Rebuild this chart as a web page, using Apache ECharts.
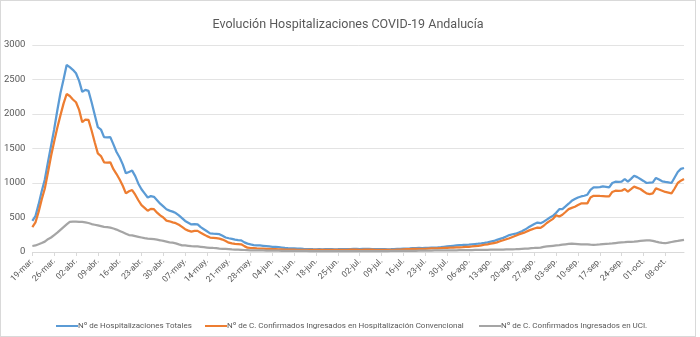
<!DOCTYPE html>
<html><head><meta charset="utf-8">
<script src="https://cdn.jsdelivr.net/npm/echarts@6/dist/echarts.min.js"></script>
<style>html,body{margin:0;padding:0;background:#fff}
#c{position:absolute;left:0;top:0;width:694px;height:335px;border:1px solid #d9d9d9;box-sizing:content-box}</style>
</head><body><div id="c"></div>
<script>
// Dates: 19-mar. to 14-oct. (daily)
const startDay = [3, 19]; // month (1-based), day
const monthNames = ['ene.','feb.','mar.','abr.','may.','jun.','jul.','ago.','sep.','oct.','nov.','dic.'];
const nDays = 210;

const totales = [
450,520,690,880,1050,1300,1540,1780,2050,2300,
2500,2710,2680,2640,2590,2480,2320,2350,2335,2170,
1990,1810,1775,1665,1660,1665,1560,1450,1370,1270,
1140,1160,1180,1100,990,910,850,790,810,800,
750,700,660,620,600,585,565,530,490,450,
425,400,405,400,360,330,300,270,265,262,
258,235,210,199,190,180,172,168,140,121,
110,100,97,95,90,85,80,75,73,70,
65,60,56,54,52,50,48,45,43,42,
40,39,40,39,40,41,40,39,40,42,
40,41,43,45,44,42,44,46,45,43,
42,41,40,40,39,40,42,44,46,48,
50,52,55,57,58,56,58,60,62,63,
66,70,75,80,85,90,95,100,102,105,
108,112,116,120,125,132,140,150,160,175,
190,205,225,245,257,265,281,300,325,354,
380,405,427,418,440,470,500,524,570,621,
621,660,700,742,767,790,805,815,830,900,
936,936,940,951,945,936,1000,1019,1015,1019,
1058,1019,1060,1106,1085,1058,1030,1000,1005,1009,
1073,1050,1024,1015,1008,1000,1080,1160,1204,1218
];

const convencional = [
360,430,580,760,920,1150,1390,1600,1800,1980,
2150,2290,2260,2210,2170,2060,1880,1920,1915,1760,
1590,1430,1390,1300,1295,1300,1200,1130,1050,960,
850,880,898,830,750,680,640,597,625,620,
570,530,500,455,445,430,418,395,365,330,
310,295,305,306,280,255,230,210,205,200,
194,180,160,135,125,118,115,112,85,63,
58,55,52,50,48,46,44,42,40,38,
37,36,35,34,33,32,31,30,30,29,
29,29,30,31,30,29,30,31,32,31,
30,31,33,34,33,32,33,35,34,33,
32,31,30,30,29,30,32,34,36,38,
40,42,44,46,47,46,47,49,51,52,
54,56,58,60,62,64,66,68,70,73,
76,80,85,90,97,105,112,120,130,140,
155,170,185,200,218,235,255,270,285,306,
325,340,354,350,380,420,451,480,534,514,
540,580,621,640,655,680,703,703,705,790,
815,815,812,810,806,806,870,888,885,888,
913,874,910,947,930,913,880,850,840,850,
922,905,888,870,860,849,920,1000,1034,1058
];

const uci = [
87,95,112,130,150,185,210,245,280,320,
360,400,437,440,440,438,437,430,420,405,
395,385,375,365,360,354,340,325,305,285,
265,245,240,230,220,210,200,194,190,185,
178,170,160,150,140,135,125,110,97,95,
90,85,83,80,75,70,65,60,58,55,
50,47,45,42,38,35,33,31,29,27,
25,24,23,22,22,21,20,20,19,19,
18,18,17,17,16,16,15,15,15,14,
14,14,13,13,13,12,12,12,12,12,
12,12,12,13,13,13,13,14,14,14,
14,14,14,14,14,15,15,15,16,16,
17,17,18,18,19,19,20,20,21,22,
22,23,23,24,24,25,25,26,26,27,
28,28,29,30,30,31,32,33,34,35,
36,36,37,38,39,40,42,45,48,50,
55,58,60,63,75,80,85,90,95,100,
106,112,118,121,118,115,112,112,110,106,
104,106,110,115,118,121,125,130,135,140,
142,146,148,150,155,160,165,168,170,162,
150,140,132,127,135,145,155,160,168,175
];

const yTicks = [0, 500, 1000, 1500, 2000, 2500, 3000];
const seriesNames = ['Nº de Hospitalizaciones Totales','Nº de C. Confirmados Ingresados en Hospitalización Convencional','Nº de C. Confirmados Ingresados en UCI.'];
const colors = ['#5B9BD5', '#ED7D31', '#A5A5A5'];

const categories = [];
{
  const d = new Date(2020, startDay[0]-1, startDay[1]);
  for (let i = 0; i < nDays; i++) {
    const dd = String(d.getDate()).padStart(2,'0');
    categories.push(dd + '-' + monthNames[d.getMonth()]);
    d.setDate(d.getDate()+1);
  }
}

const chart = echarts.init(document.getElementById('c'), null, {renderer:'canvas'});
const FONT = 'Roboto, sans-serif';
const mk = (name, data, color) => ({
  name, type:'line', data, symbol:'none', smooth:false,
  lineStyle:{color, width:2.25}, itemStyle:{color}
});
const legendPos = [50, 199, 473];
chart.setOption({
  animation:false,
  title:{text:'Evolución Hospitalizaciones COVID-19 Andalucía', left:'center', top:12,
    textStyle:{fontFamily:FONT, fontSize:12.5, fontWeight:'normal', color:'#595959'}},
  grid:{left:31, right:11, top:44, bottom:84},
  legend: seriesNames.map((n, i) => ({
    data:[n], left:legendPos[i], top:316, itemWidth:22, itemHeight:2, icon:'rect',
    textStyle:{fontFamily:FONT, fontSize:8, color:'#595959', padding:[0,0,0,-5]}
  })),
  xAxis:{type:'category', data:categories, boundaryGap:false,
    axisLine:{lineStyle:{color:'#d9d9d9'}},
    axisTick:{show:true, interval:6, length:4, lineStyle:{color:'#d9d9d9'}},
    axisLabel:{interval:6, rotate:45, fontFamily:FONT, fontSize:8.5, color:'#595959', margin:8}},
  yAxis:{type:'value', min:yTicks[0], max:yTicks[yTicks.length-1], interval:500,
    axisLine:{show:false}, axisTick:{show:false},
    splitLine:{lineStyle:{color:'#e3e3e3'}},
    axisLabel:{fontFamily:FONT, fontSize:9.5, color:'#595959', margin:7, formatter:v => String(v)}},
  series:seriesNames.map((n, i) => mk(n, [totales, convencional, uci][i], colors[i]))
});
</script></body></html>
